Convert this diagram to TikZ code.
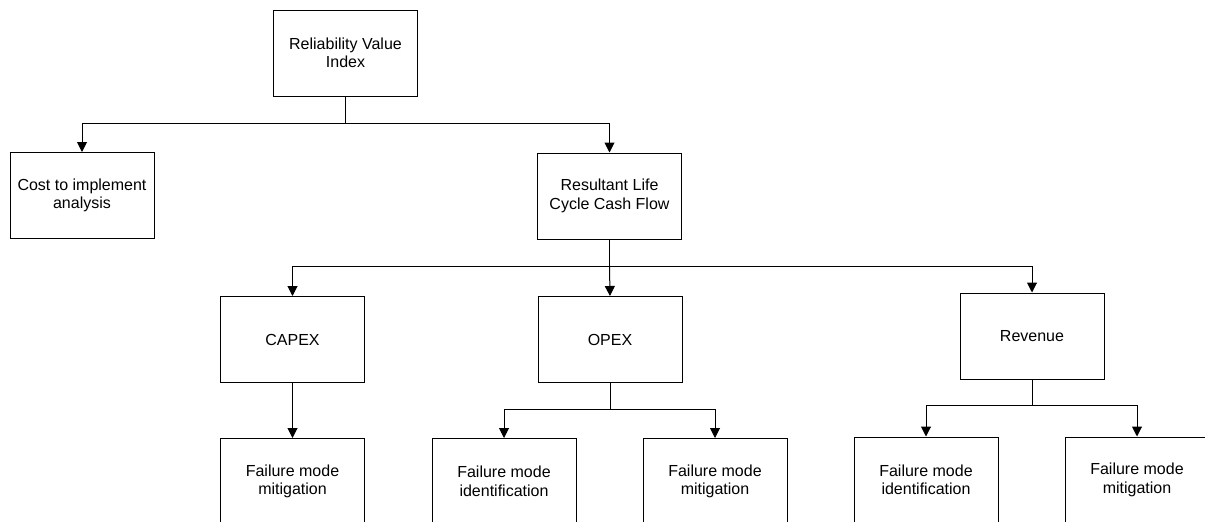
\documentclass[tikz,border=0pt]{standalone}
\usepackage{fontspec}
\setmainfont{Liberation Sans}
\usetikzlibrary{arrows.meta}
\begin{document}
\begin{tikzpicture}[x=1pt,y=-1pt,
  box/.style={draw=black, line width=1pt, rectangle, minimum width=144pt, minimum height=86pt,
    inner sep=0pt, align=center, font=\fontsize{16}{18.5}\selectfont},
  link/.style={draw=black, line width=1pt},
  arr/.style={link, -{Triangle[width=10pt,length=10pt]}}]
\clip (0,0) rectangle (1205,522);
\fill[white] (0,0) rectangle (1205,522);

% tree nodes
\node[box] (rvi)   at (345.5,53)  {Reliability Value\\Index};
\node[box] (cost)  at (82,195.5)  {Cost to implement\\analysis};
\node[box] (rlc)   at (609.5,196) {Resultant Life\\Cycle Cash Flow};
\node[box] (capex) at (292.5,339.5) {CAPEX};
\node[box] (opex)  at (610,339.5) {OPEX};
\node[box] (rev)   at (1032,336)  {Revenue};
\node[box] (fmc)   at (292.5,481.5) {Failure mode\\mitigation};
\node[box] (fio)   at (504,481.5) {Failure mode\\identification};
\node[box] (fmo)   at (715,481.5) {Failure mode\\mitigation};
\node[box] (fir)   at (926,480)   {Failure mode\\identification};
\node[box] (fmr)   at (1137,480)  {Failure mode\\mitigation};

% bus levels
\coordinate (b1) at (0,123);
\coordinate (b2) at (0,266);
\coordinate (b3) at (0,409);
\coordinate (b4) at (0,405);

% connectors
\draw[link] (rvi.south) -- (rvi.south |- b1);
\draw[arr] (rvi.south |- b1) -| (cost.north);
\draw[arr] (rvi.south |- b1) -| (rlc.north);

\draw[link] (rlc.south) -- (rlc.south |- b2);
\draw[arr] (rlc.south |- b2) -| (capex.north);
\draw[arr] (rlc.south |- b2) -- (opex.north);
\draw[arr] (rlc.south |- b2) -| (rev.north);

\draw[arr] (capex.south) -- (fmc.north);

\draw[link] (opex.south) -- (opex.south |- b3);
\draw[arr] (opex.south |- b3) -| (fio.north);
\draw[arr] (opex.south |- b3) -| (fmo.north);

\draw[link] (rev.south) -- (rev.south |- b4);
\draw[arr] (rev.south |- b4) -| (fir.north);
\draw[arr] (rev.south |- b4) -| (fmr.north);
\end{tikzpicture}
\end{document}
